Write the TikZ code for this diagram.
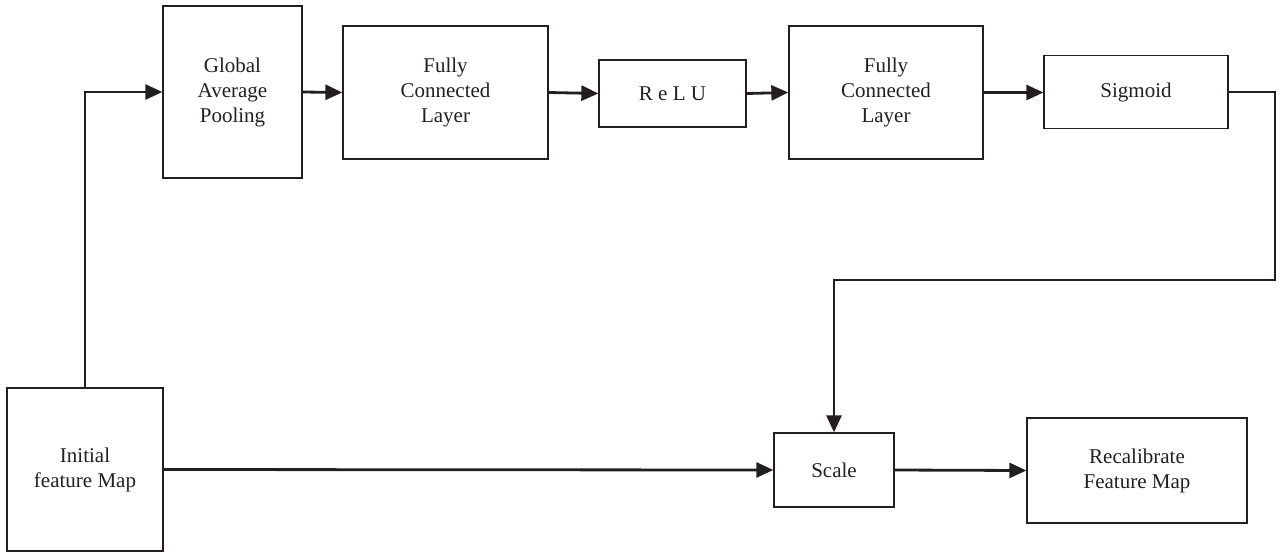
\documentclass[tikz,border=0pt]{standalone}
\usepackage{fontspec}
\setmainfont{Liberation Serif}
\usetikzlibrary{arrows.meta}
\definecolor{ink}{RGB}{35,31,32}
\begin{document}
\begin{tikzpicture}[x=1pt,y=-1pt,
  blk/.style={draw=ink,line width=1.3pt,inner sep=0pt,align=center,text=ink,
    font=\fontsize{21}{25}\selectfont},
  conn/.style={draw=ink,line width=2.8pt,-{Triangle[length=17pt,width=15pt]}},
  plain/.style={draw=ink,line width=2.8pt}]
\useasboundingbox (0,0) rectangle (1282,552);
\node[blk,minimum width=139pt,minimum height=172pt] (gap) at (232.5,92) {Global\\Average\\Pooling};
\node[blk,minimum width=205pt,minimum height=133pt] (fc1) at (445.5,92.5) {Fully\\Connected\\Layer};
\node[blk,minimum width=147pt,minimum height=67pt] (relu) at (672.5,93.5) {R e L U};
\node[blk,minimum width=194pt,minimum height=133pt] (fc2) at (886,92.5) {Fully\\Connected\\Layer};
\node[blk,minimum width=184pt,minimum height=73pt] (sig) at (1136,92) {Sigmoid};
\node[blk,minimum width=156pt,minimum height=163pt] (init) at (85,469.5) {Initial\\feature Map};
\node[blk,minimum width=120pt,minimum height=74pt] (scale) at (834,470) {Scale};
\node[blk,minimum width=220pt,minimum height=105pt] (recal) at (1137,470.5) {Recalibrate\\Feature Map};
\coordinate (c1) at (1275,280);
\draw[conn] (init.north) |- (gap.west);
\draw[conn] (gap.east) -- (fc1.west);
\draw[conn] (fc1.east) -- (relu.west);
\draw[conn] (relu.east) -- (fc2.west);
\draw[conn] (fc2.east) -- (fc2.east -| sig.west);
\draw[conn] (sig.east) -| (c1) -| (scale.north);
\draw[conn] (init.east) -- (scale.west);
\draw[conn] (scale.east) -- (recal.west);
\end{tikzpicture}
\end{document}
